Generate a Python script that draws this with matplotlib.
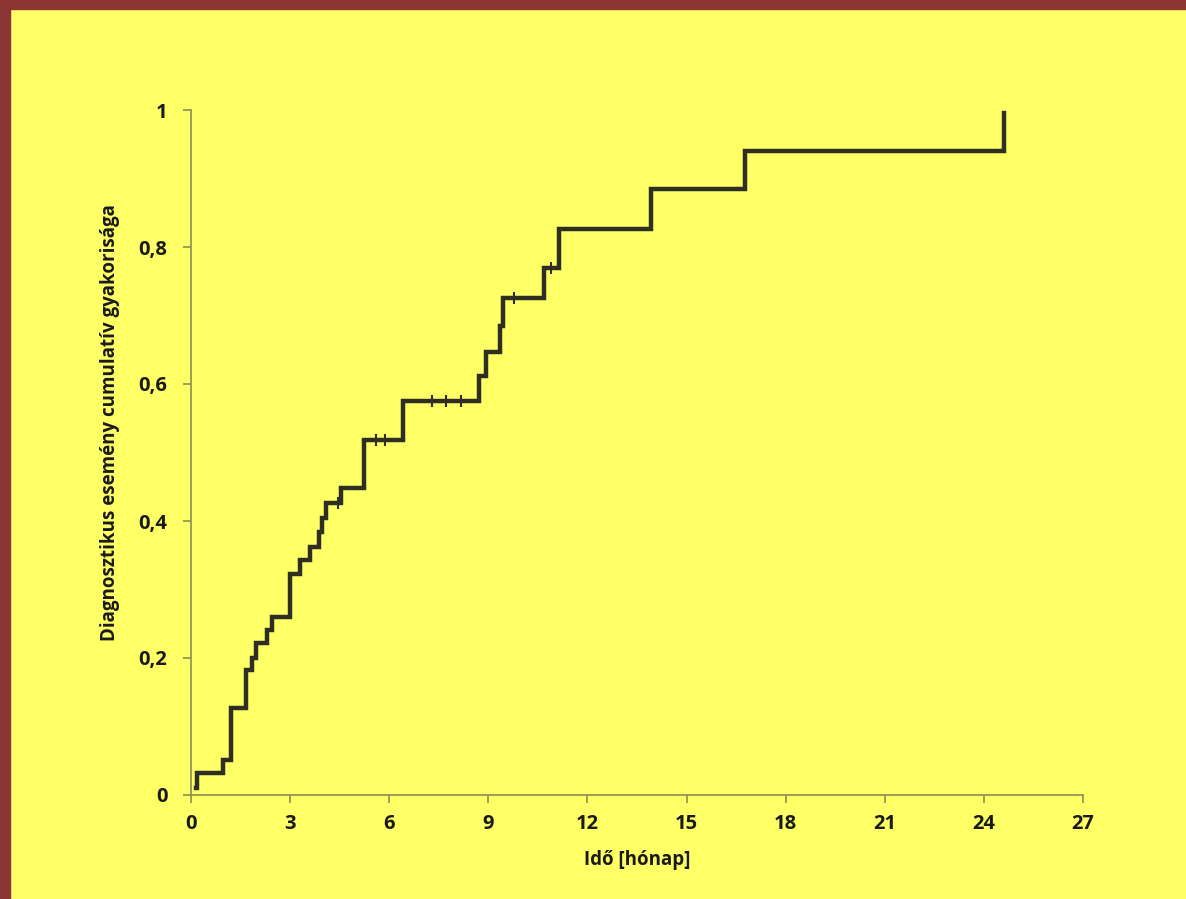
import numpy as np
import matplotlib.pyplot as plt
from matplotlib.patches import Rectangle

# lépcsős görbe: események ideje (hónap) és kumulatív gyakoriság
times = [0.14, 0.18, 0.97, 1.2, 1.66, 1.85, 1.96, 2.3, 2.45, 3.0, 3.3, 3.6,
         3.88, 3.98, 4.1, 4.53, 5.24, 6.42, 8.73, 8.93, 9.35, 9.43, 10.7,
         11.15, 13.93, 16.76, 24.6]
values = [0.01, 0.032, 0.051, 0.127, 0.182, 0.2, 0.222, 0.241, 0.26, 0.323,
          0.343, 0.362, 0.384, 0.404, 0.426, 0.448, 0.518, 0.575, 0.611,
          0.646, 0.685, 0.725, 0.769, 0.826, 0.885, 0.94, 0.996]

# cenzorált megfigyelések
cens_t = [4.45, 5.6, 5.88, 7.29, 7.71, 8.17, 9.79, 10.9]
cens_v = [0.426, 0.518, 0.518, 0.575, 0.575, 0.575, 0.725, 0.769]

xticks = [0, 3, 6, 9, 12, 15, 18, 21, 24, 27]
yticks = [0, 0.2, 0.4, 0.6, 0.8, 1]
ylabels = ["0", "0,2", "0,4", "0,6", "0,8", "1"]

yellow = "#ffff66"
border = "#8b3535"
ink = "#2e2e22"
axcol = "#8c8c55"
txt = "#1a1a1a"

plt.rcParams["font.family"] = ["Open Sans", "DejaVu Sans"]

fig = plt.figure(figsize=(11.86, 8.99), dpi=100, facecolor=yellow)
# keret bal és felső oldalon
fig.patches.append(Rectangle((0, 0), 10 / 1186, 1, transform=fig.transFigure,
                             color=border, zorder=0))
fig.patches.append(Rectangle((0, 1 - 9 / 899), 1, 9 / 899, transform=fig.transFigure,
                             color=border, zorder=0))

ax = fig.add_axes([191 / 1186, 1 - 795 / 899, (1083 - 191) / 1186, (795 - 110) / 899])
ax.set_facecolor(yellow)

ax.step(times, values, where="post", color=ink, lw=3.2, solid_joinstyle="miter")
ax.plot(cens_t, cens_v, linestyle="none", marker="|", markersize=9,
        markeredgewidth=1.5, color=ink)

ax.set_xlim(0, 27)
ax.set_ylim(0, 1)
ax.set_xticks(xticks)
ax.set_yticks(yticks)
ax.set_yticklabels(ylabels)

for s in ["top", "right"]:
    ax.spines[s].set_visible(False)
for s in ["left", "bottom"]:
    ax.spines[s].set_color(axcol)
    ax.spines[s].set_linewidth(1.2)

ax.tick_params(axis="both", direction="out", length=6, width=1.2, color=axcol,
               labelsize=14.5, labelcolor=txt)
ax.tick_params(axis="y", pad=11)
ax.tick_params(axis="x", pad=8)
for lab in ax.get_xticklabels() + ax.get_yticklabels():
    lab.set_fontweight("bold")

ax.set_xlabel("Idő [hónap]", fontsize=13.5, fontweight="bold", color=txt)
ax.set_ylabel("Diagnosztikus esemény cumulatív gyakorisága", fontsize=13.5,
              fontweight="bold", color=txt)
ax.xaxis.set_label_coords(0.5, -0.081)
ax.yaxis.set_label_coords(-0.08, 0.544)

fig.savefig("out.png", dpi=100, facecolor=yellow)
